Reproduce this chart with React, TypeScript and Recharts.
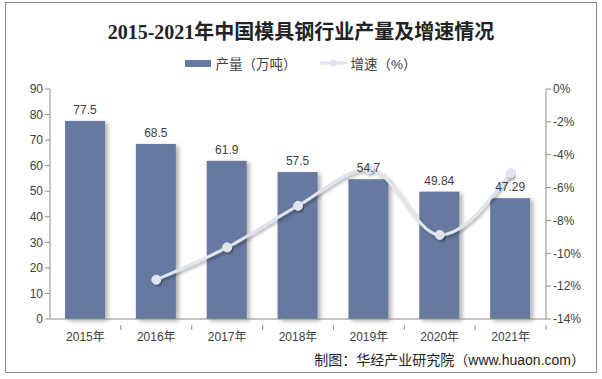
import { Bar, ComposedChart, LabelList, Line, XAxis, YAxis } from 'recharts';

// 2015-2021 中国模具钢行业产量及增速
const years = ['2015年', '2016年', '2017年', '2018年', '2019年', '2020年', '2021年'];
const output = [77.5, 68.5, 61.9, 57.5, 54.7, 49.84, 47.29];
const growth = [null, -11.61, -9.64, -7.11, -4.87, -8.88, -5.12];
const leftTicks = [0, 10, 20, 30, 40, 50, 60, 70, 80, 90];
const rightTicks = [-14, -12, -10, -8, -6, -4, -2, 0];

const data = years.map((year, i) => ({ year, output: output[i], growth: growth[i] }));

const BAR = '#66799f';
const LINE = '#dfe4ee';
const AXIS = '#8c8c8c';
const TEXT = '#404040';
const FONT = '"Liberation Sans", Arial, "Noto Sans CJK SC", sans-serif';

const BarShape = (props: any) => {
    const { x, y, width, height } = props;
    return <rect x={x} y={y} width={width} height={height} fill={BAR} filter="url(#barShadow)" />;
};

const XTick = (props: any) => {
    const { x, y, payload } = props;
    const half = 496 / 7 / 2;
    return (
        <g>
            <line x1={x + half} y1={y - 2} x2={x + half} y2={y + 3} stroke={AXIS} />
            <text x={x} y={y + 14} textAnchor="middle" fontSize={12} fill={TEXT} fontFamily={FONT}>
                {payload.value}
            </text>
        </g>
    );
};

export default function App() {
    return (
        <div style={{ position: 'absolute', left: 0, top: 0, width: 602, height: 379, background: '#fff', fontFamily: FONT }}>
            <div style={{ position: 'absolute', left: 5, top: 2, width: 590, height: 369, border: '1px solid #8a8a8a' }} />
            <div
                style={{
                    position: 'absolute', left: 0, top: 16, width: 602, textAlign: 'center',
                    fontSize: 20, fontWeight: 'bold', color: '#222',
                    fontFamily: '"Liberation Serif", "Times New Roman", "Noto Sans CJK SC", serif',
                }}
            >
                2015-2021年中国模具钢行业产量及增速情况
            </div>
            <div style={{ position: 'absolute', left: 0, top: 54, width: 602, height: 18, display: 'flex', justifyContent: 'center', alignItems: 'center', fontSize: 13.5, color: TEXT }}>
                <span style={{ display: 'inline-block', width: 26, height: 7, background: BAR, marginRight: 4 }} />
                <span style={{ marginRight: 24 }}>产量（万吨）</span>
                <svg width={27} height={10} style={{ marginRight: 3 }}>
                    <line x1={0} y1={5} x2={27} y2={5} stroke={LINE} strokeWidth={3} />
                    <circle cx={13.5} cy={5} r={3.5} fill={LINE} />
                </svg>
                <span>增速（%）</span>
            </div>
            <ComposedChart
                width={602}
                height={379}
                data={data}
                margin={{ top: 89, right: 11, bottom: 30, left: 10 }}
                style={{ position: 'absolute', left: 0, top: 0 }}
            >
                <defs>
                    <filter id="barShadow" x="-20%" y="-5%" width="150%" height="115%">
                        <feDropShadow dx={3} dy={2} stdDeviation={2} floodColor="#000" floodOpacity={0.3} />
                    </filter>
                    <filter id="lineShadow" x="-10%" y="-20%" width="120%" height="150%">
                        <feDropShadow dx={2} dy={2} stdDeviation={1.5} floodColor="#000" floodOpacity={0.3} />
                    </filter>
                </defs>
                <XAxis
                    dataKey="year"
                    stroke={AXIS}
                    tickLine={false}
                    tick={<XTick />}
                    interval={0}
                    height={30}
                />
                <YAxis
                    yAxisId="left"
                    width={40}
                    domain={[0, 90]}
                    ticks={leftTicks}
                    interval={0}
                    stroke={AXIS}
                    tickSize={5}
                    tick={{ fill: TEXT, fontSize: 12, fontFamily: FONT }}
                />
                <YAxis
                    yAxisId="right"
                    orientation="right"
                    width={45}
                    domain={[-14, 0]}
                    ticks={rightTicks}
                    interval={0}
                    stroke={AXIS}
                    tickSize={5}
                    tickFormatter={(v) => `${v}%`}
                    tick={{ fill: TEXT, fontSize: 12, fontFamily: FONT }}
                />
                <Bar yAxisId="left" dataKey="output" barSize={40} shape={<BarShape />} isAnimationActive={false}>
                    <LabelList dataKey="output" position="top" offset={7} fill={TEXT} fontSize={12} fontFamily={FONT} />
                </Bar>
                <Line
                    yAxisId="right"
                    type="monotone"
                    dataKey="growth"
                    stroke={LINE}
                    strokeWidth={3}
                    dot={{ r: 4.5, fill: LINE, stroke: LINE, strokeWidth: 1 }}
                    filter="url(#lineShadow)"
                    connectNulls
                    isAnimationActive={false}
                />
            </ComposedChart>
            <div style={{ position: 'absolute', right: 17, top: 349, fontSize: 14, color: '#222' }}>
                制图：华经产业研究院（www.huaon.com）
            </div>
        </div>
    );
}
